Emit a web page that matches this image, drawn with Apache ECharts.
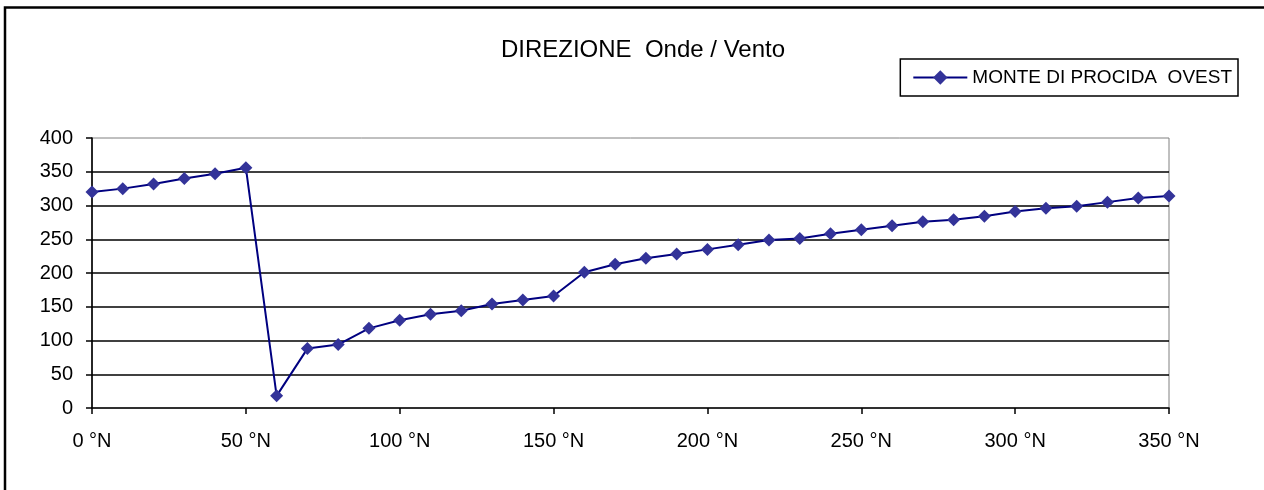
<!DOCTYPE html>
<html>
<head>
<meta charset="utf-8">
<title>DIREZIONE Onde / Vento</title>
<script src="https://cdn.jsdelivr.net/npm/echarts@6/dist/echarts.min.js"></script>
<style>
  html, body { margin: 0; padding: 0; background: #fff; }
  #chart { width: 1264px; height: 490px; }
</style>
</head>
<body>
<div id="chart"></div>
<script>
// Direction in degrees north (x) for each sample
const directions = [0, 10, 20, 30, 40, 50, 60, 70, 80, 90, 100, 110, 120, 130, 140, 150, 160, 170,
  180, 190, 200, 210, 220, 230, 240, 250, 260, 270, 280, 290, 300, 310, 320, 330, 340, 350];

// Resulting direction at Monte di Procida ovest
const monteDiProcidaOvest = [320, 325, 332, 340, 347, 356, 18, 88, 94, 118, 130, 139, 144, 154, 160, 166, 201, 213,
  222, 228, 235, 242, 249, 251, 258, 264, 270, 276, 279, 284, 291, 296, 299, 305, 311, 314];

const seriesName = 'MONTE DI PROCIDA  OVEST';
const chartTitle = 'DIREZIONE  Onde / Vento';

const FONT = '"Liberation Sans", Arial, sans-serif';

const chart = echarts.init(document.getElementById('chart'), null, { renderer: 'canvas' });

chart.setOption({
  backgroundColor: '#fff',
  animation: false,
  title: {
    text: chartTitle,
    left: 638,
    textAlign: 'center',
    top: 33,
    textStyle: { fontFamily: FONT, fontSize: 24, fontWeight: 'normal', color: '#000' }
  },
  legend: {
    right: 26,
    top: 59,
    itemWidth: 54,
    itemHeight: 18,
    itemGap: 0,
    padding: [9, 6, 9, 12],
    borderColor: '#000',
    borderWidth: 1.5,
    borderRadius: 0,
    textStyle: { fontFamily: FONT, fontSize: 19, color: '#000' },
    data: [seriesName]
  },
  grid: {
    left: 92,
    right: 95,
    top: 138,
    bottom: 82,
    show: true,
    borderColor: '#808080',
    borderWidth: 1,
    backgroundColor: '#fff'
  },
  xAxis: {
    type: 'value',
    min: 0,
    max: 350,
    interval: 50,
    axisLine: { show: true, onZero: false, lineStyle: { color: '#000', width: 1.6 } },
    axisTick: { show: true, length: 6, lineStyle: { color: '#000', width: 1.5 } },
    axisLabel: {
      margin: 23,
      fontFamily: FONT,
      fontSize: 20,
      color: '#000',
      formatter: '{value} °N'
    },
    splitLine: { show: false }
  },
  yAxis: {
    type: 'value',
    min: 0,
    max: 400,
    interval: 50,
    axisLine: { show: true, lineStyle: { color: '#000', width: 1.6 } },
    axisTick: { show: true, length: 6, lineStyle: { color: '#000', width: 1.5 } },
    axisLabel: {
      margin: 19,
      fontFamily: FONT,
      fontSize: 20,
      color: '#000'
    },
    splitLine: {
      show: true,
      showMinLine: false,
      showMaxLine: false,
      lineStyle: { color: '#000', width: 1.6 }
    }
  },
  graphic: [{
    // outer chart-area frame
    type: 'rect',
    silent: true,
    z: 100,
    shape: { x: 5, y: 7.5, width: 1400, height: 600 },
    style: { fill: 'none', stroke: '#000', lineWidth: 2.5 }
  }],
  series: [{
    name: seriesName,
    type: 'line',
    data: directions.map((d, i) => [d, monteDiProcidaOvest[i]]),
    symbol: 'diamond',
    symbolSize: 13,
    showAllSymbol: true,
    clip: false,
    lineStyle: { color: '#000080', width: 2 },
    itemStyle: { color: '#333399', borderWidth: 0 },
    color: '#333399'
  }]
});
</script>
</body>
</html>
